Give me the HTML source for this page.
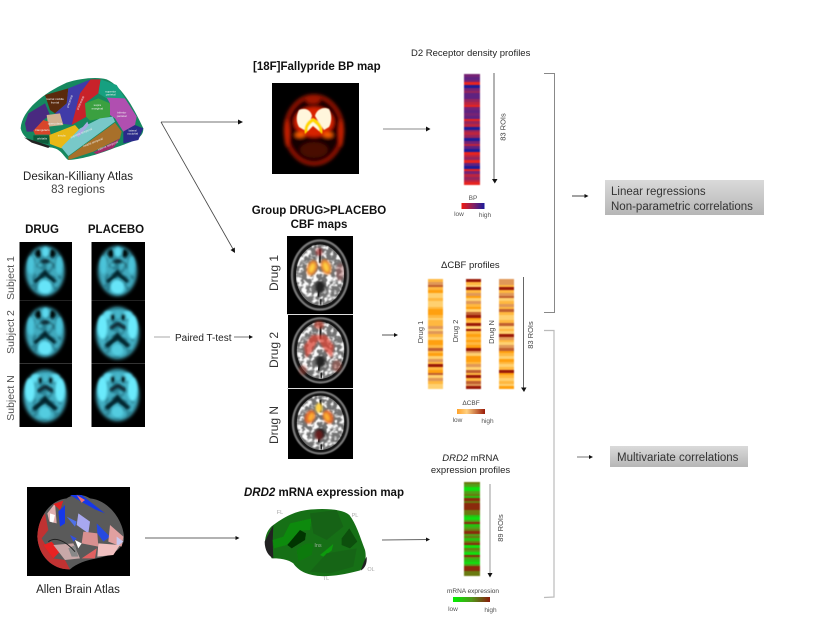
<!DOCTYPE html>
<html><head><meta charset="utf-8">
<style>
html,body{margin:0;padding:0;background:#fff;width:815px;height:638px;overflow:hidden}
.b{position:absolute;display:flex;flex-direction:column;filter:blur(.45px)}
.b i{flex:1;display:block}
.v{background:#5f2280}.s{background:#1c1c98}.r{background:#e82420}.m{background:#96245c}.p{background:#762274}.o{background:#bc2440}
.a{background:#ffd070}.c{background:#ffb840}.d{background:#ffa010}.e{background:#e09858}.f{background:#c06030}.g{background:#9a1a08}
.h{background:#10e010}.j{background:#50a018}.k{background:#6a7a10}.l{background:#8a2a0c}.n{background:#28c010}
svg{position:absolute;left:0;top:0}
text{font-family:"Liberation Sans",sans-serif;fill:#333}
.t{font-weight:bold;fill:#111;font-size:11.5px}
</style></head><body>
<svg width="815" height="638" viewBox="0 0 815 638">
<defs>
<filter id="bl" x="-25%" y="-25%" width="150%" height="150%"><feGaussianBlur stdDeviation="1.3"/></filter>
<filter id="bs" x="-10%" y="-10%" width="120%" height="120%"><feGaussianBlur stdDeviation=".6"/></filter>
<filter id="bm" x="-30%" y="-30%" width="160%" height="160%"><feGaussianBlur stdDeviation="1.8"/></filter>
<filter id="mot" x="0" y="0" width="100%" height="100%"><feTurbulence type="fractalNoise" baseFrequency=".2" numOctaves="2" seed="4"/><feColorMatrix values="0 0 0 0 1  0 0 0 0 1  0 0 0 0 1  4 4 0 0 -3.7"/><feComposite in2="SourceAlpha" operator="in"/><feGaussianBlur stdDeviation=".5"/></filter>
<filter id="mot2" x="0" y="0" width="100%" height="100%"><feTurbulence type="fractalNoise" baseFrequency=".14" numOctaves="2" seed="9"/><feColorMatrix values="0 0 0 0 0  0 0 0 0 .03  0 0 0 0 .05  5 5 0 0 -4.8"/><feComposite in2="SourceAlpha" operator="in"/><feGaussianBlur stdDeviation="1"/></filter>
<linearGradient id="g1" x1="0" x2="1"><stop offset="0" stop-color="#f01a10"/><stop offset=".5" stop-color="#8a2060"/><stop offset="1" stop-color="#1a1a9a"/></linearGradient>
<linearGradient id="g2" x1="0" x2="1"><stop offset="0" stop-color="#ffa22a"/><stop offset=".35" stop-color="#ffd080"/><stop offset=".7" stop-color="#c87040"/><stop offset="1" stop-color="#9a1a08"/></linearGradient>
<linearGradient id="g3" x1="0" x2="1"><stop offset="0" stop-color="#00f000"/><stop offset=".5" stop-color="#50981a"/><stop offset="1" stop-color="#8a1a0c"/></linearGradient>
<linearGradient id="gb" x1="0" x2="0" y1="0" y2="1"><stop offset="0" stop-color="#dadada"/><stop offset="1" stop-color="#b6b6b6"/></linearGradient>
<g id="cy">
<ellipse cx="26" cy="30" rx="19.500" ry="25" fill="#3fa9bd" filter="url(#bm)"/>
<ellipse cx="26" cy="30" rx="18" ry="24" fill="#000" opacity=".35" filter="url(#mot2)"/>
<g filter="url(#bl)">
<ellipse cx="26" cy="46" rx="7" ry="7" fill="#66e4f8"/>
<ellipse cx="26.500" cy="11" rx="3.500" ry="5" fill="#5cd8ee"/>
<ellipse cx="12" cy="24" rx="3.500" ry="9" fill="#4cc4da"/><ellipse cx="40" cy="24" rx="3.500" ry="9" fill="#4cc4da"/>
<ellipse cx="19.300" cy="12.500" rx="3.200" ry="4.200" fill="#010a0e"/><ellipse cx="33.500" cy="12.500" rx="3.200" ry="4.200" fill="#010a0e"/>
<path d="M25 18L17 24 20 26 26 22 33 26 36 24 28 18Z" fill="#0a2c36"/>
<ellipse cx="21" cy="24" rx="2.500" ry="2" fill="#46b8cc"/><ellipse cx="31" cy="24" rx="2.500" ry="2" fill="#46b8cc"/>
<path d="M26 28L21 34 14 40 17 42 26 35 35 42 38 40 31 34Z" fill="#06222a"/>
</g>
</g>
<g id="cyb">
<ellipse cx="26" cy="30" rx="21.500" ry="26" fill="#42aec2" filter="url(#bm)"/>
<ellipse cx="26" cy="30" rx="20" ry="25" fill="#000" opacity=".3" filter="url(#mot2)"/>
<g filter="url(#bl)">
<ellipse cx="11" cy="24" rx="5" ry="12" fill="#6aeafc"/><ellipse cx="41" cy="24" rx="5" ry="12" fill="#6aeafc"/>
<ellipse cx="17" cy="12" rx="5" ry="4" fill="#62e0f4"/><ellipse cx="36" cy="12" rx="5" ry="4" fill="#62e0f4"/>
<ellipse cx="26" cy="47" rx="6" ry="6" fill="#52cce0"/>
<ellipse cx="26.500" cy="12" rx="2.500" ry="4" fill="#46b8cc"/>
<ellipse cx="21" cy="14" rx="2.300" ry="3.300" fill="#010a0e"/><ellipse cx="32" cy="14" rx="2.300" ry="3.300" fill="#010a0e"/>
<path d="M25 19L18 24 20 27 26 23 33 27 35 24 28 19Z" fill="#0a2c36"/>
<path d="M26 29L21 35 13 42 16 45 26 37 36 45 39 42 31 35Z" fill="#06222a"/>
</g>
</g>
<g id="cb">
<ellipse cx="33" cy="38" rx="29" ry="35.500" fill="#141414"/>
<ellipse cx="33" cy="38" rx="28" ry="34.500" fill="none" stroke="#7c7c7c" stroke-width="2.200" filter="url(#bs)"/>
<ellipse cx="33" cy="38" rx="24" ry="30.500" fill="#727272"/>
<ellipse cx="33" cy="38" rx="24" ry="30.500" fill="#000" filter="url(#mot)"/>
<path d="M33 12V26M33 46L31 60M34 62V68" stroke="#111" stroke-width="2" fill="none" filter="url(#bs)"/>
<ellipse cx="33" cy="50" rx="5" ry="6" fill="#222" filter="url(#bl)"/>
</g>
</defs>

<!-- Desikan atlas -->
<g transform="translate(0,60) scale(.33333)" filter="url(#bs)">
<path d="M62 205C66 150 130 100 200 68 240 55 290 50 320 58 360 75 395 130 430 205 430 230 415 240 340 265 290 285 240 298 205 300 190 290 185 265 150 262 110 255 70 240 62 205Z" fill="#14885f"/>
<path d="M75 190L85 160 135 130 150 165 130 180 100 215 80 215Z" fill="#4a2a80"/>
<path d="M135 105L205 85 200 130 165 160 150 150Z" fill="#5a2a10"/>
<path d="M205 85L272 58 250 90 215 195 180 190 165 160 200 130Z" fill="#3f3aa8"/>
<path d="M272 58L302 58 295 100 255 130 260 170 215 195 240 100Z" fill="#c8202c"/>
<path d="M302 58L350 75 375 115 320 115 295 100Z" fill="#18a080"/>
<path d="M255 130L295 115 330 130 330 170 270 182 258 170Z" fill="#3aa040"/>
<path d="M320 113L375 115 410 170 405 195 370 215 345 175 330 165 330 130Z" fill="#b050b0"/>
<path d="M370 215L405 195 430 205 415 240 370 250Z" fill="#2a2a8a"/>
<path d="M140 165L180 160 190 195 145 200Z" fill="#d0b090"/>
<path d="M100 212L130 180 145 185 152 224 105 224Z" fill="#d8452a"/>
<path d="M100 226H150L145 252 100 245Z" fill="#105a3a"/>
<path d="M148 225L225 195 240 212 185 265 150 252Z" fill="#e8b818"/>
<path d="M184 262L240 205 300 175 338 170 345 185 205 288Z" fill="#78c8c8"/>
<path d="M205 290L345 188 365 215 360 235 280 275 205 300Z" fill="#a8702a"/>
<path d="M280 278L360 235 340 264 290 282Z" fill="#a02a6a"/>
<path d="M72 232L150 258 145 264 95 248Z" fill="#222"/>
<path d="M228 225L262 185 266 195 235 232Z" fill="#a8a8e0"/>
<g font-size="9" style="fill:#fff" text-anchor="middle">
<text x="332" y="97" style="fill:#eee">superior</text><text x="332" y="107" style="fill:#eee">parietal</text>
<text x="292" y="138" style="fill:#eee">supra</text><text x="292" y="149" style="fill:#eee">marginal</text>
<text x="365" y="160" style="fill:#eee">inferior</text><text x="365" y="171" style="fill:#eee">parietal</text>
<text x="398" y="214" style="fill:#eee">lateral</text><text x="398" y="224" style="fill:#eee">occipital</text>
<text x="127" y="213" style="fill:#eee">triangularis</text><text x="126" y="238" style="fill:#eee">orbitalis</text>
<text x="185" y="230" style="fill:#eee">insula</text>
<text x="165" y="120" style="fill:#eee">rostral middle</text><text x="165" y="130" style="fill:#eee">frontal</text>
<text x="245" y="222" transform="rotate(-22 245 222)" style="fill:#eee">superior temporal</text>
<text x="280" y="250" transform="rotate(-22 280 250)" style="fill:#eee">middle temporal</text>
<text x="325" y="260" transform="rotate(-22 325 260)" style="fill:#eee">inferior temporal</text>
<text x="212" y="125" transform="rotate(-70 212 125)" style="fill:#eee">precentral</text>
<text x="244" y="130" transform="rotate(-65 244 130)" style="fill:#eee">postcentral</text>
<text x="165" y="193" style="fill:#eee">opercularis</text>
</g>
</g>
<text x="78" y="180" font-size="11.500" text-anchor="middle" style="fill:#222">Desikan-Killiany Atlas</text>
<text x="78" y="193" font-size="11.500" text-anchor="middle" style="fill:#444">83 regions</text>

<!-- cyan tiles -->
<text x="42" y="233" class="t" text-anchor="middle">DRUG</text>
<text x="116" y="233" class="t" text-anchor="middle">PLACEBO</text>
<rect x="19.500" y="242" width="52.500" height="185" fill="#000"/>
<rect x="91.500" y="242" width="53.500" height="185" fill="#000"/>
<use href="#cy" x="19" y="241"/><use href="#cy" x="19" y="302"/><use href="#cyb" x="19" y="366"/>
<use href="#cy" x="91.500" y="241"/><use href="#cyb" x="91.500" y="303"/><use href="#cyb" x="91.500" y="365"/>
<rect x="19.500" y="300" width="52.500" height="1" fill="#222"/><rect x="19.500" y="363" width="52.500" height="1" fill="#333"/>
<rect x="91.500" y="300" width="53.500" height="1" fill="#222"/><rect x="91.500" y="363" width="53.500" height="1" fill="#333"/>
<g font-size="10.500" style="fill:#555" text-anchor="middle">
<text transform="translate(14,278) rotate(-90)" style="fill:#555">Subject 1</text>
<text transform="translate(14,332) rotate(-90)" style="fill:#555">Subject 2</text>
<text transform="translate(14,398) rotate(-90)" style="fill:#555">Subject N</text>
</g>
<text x="175" y="341" font-size="10" style="fill:#222">Paired T-test</text>

<!-- Fallypride -->
<text x="253" y="70" class="t">[18F]Fallypride BP map</text>
<rect x="272" y="83" width="87" height="91" fill="#000"/>
<g filter="url(#bm)">
<ellipse cx="314" cy="130" rx="28" ry="34" fill="#160200"/>
<ellipse cx="314" cy="130" rx="28.500" ry="34" fill="none" stroke="#9a1600" stroke-width="3.500"/>
<ellipse cx="287" cy="133" rx="2.500" ry="14" fill="#cc2400"/><ellipse cx="341" cy="133" rx="2.500" ry="14" fill="#cc2400"/>
<ellipse cx="313" cy="100" rx="7" ry="4" fill="#a01400"/>
<ellipse cx="314" cy="122" rx="20" ry="15" fill="#d82000"/>
<ellipse cx="300" cy="135" rx="5" ry="2.500" fill="#ff6000"/><ellipse cx="328" cy="135" rx="5" ry="2.500" fill="#ff6000"/>
<ellipse cx="314" cy="150" rx="14" ry="8" fill="#4a0800"/>
</g>
<g filter="url(#bs)">
<path d="M299 110C305 107 311 110 312 116L309 124 304 130 299 127C296 122 296 115 299 110Z" fill="#fff6dc"/>
<path d="M329 109C323 106 316 110 315 116L318 121 324 130 329 127C332 122 332 114 329 109Z" fill="#fff6dc"/>
<path d="M313 118C306 121 303 128 305 134 308 131 312 127 313 125 315 127 319 131 322 134 324 128 320 121 313 118Z" fill="#ffd800"/>
<path d="M313 122C309 125 307 128 308 131L313 126 319 131C320 128 317 125 313 122Z" fill="#fffbe0"/>
</g>

<!-- CBF -->
<text x="319" y="214" class="t" text-anchor="middle">Group DRUG&gt;PLACEBO</text>
<text x="319" y="228" class="t" text-anchor="middle">CBF maps</text>
<rect x="287" y="236" width="66" height="78" fill="#000"/>
<rect x="288" y="315" width="65" height="73" fill="#000"/>
<rect x="288" y="389" width="65" height="70" fill="#000"/>
<use href="#cb" x="287" y="237"/>
<g transform="translate(288,315) scale(.985,.93)"><use href="#cb"/></g>
<g transform="translate(288,389) scale(.985,.89)"><use href="#cb"/></g>
<rect x="287" y="314" width="66" height="1" fill="#ddd"/><rect x="287" y="388" width="66" height="1" fill="#ddd"/>
<g filter="url(#bl)">
<ellipse cx="312" cy="268" rx="5" ry="8" fill="#e88030" transform="rotate(20 312 268)"/><ellipse cx="326" cy="267" rx="5" ry="8" fill="#e88030" transform="rotate(-20 326 267)"/>
<ellipse cx="312" cy="268" rx="2.500" ry="5" fill="#ffd040" transform="rotate(20 312 268)"/><ellipse cx="326" cy="267" rx="2.500" ry="5" fill="#ffd040" transform="rotate(-20 326 267)"/>
<ellipse cx="319" cy="252" rx="3.500" ry="4" fill="#a03030" opacity=".7"/>
<ellipse cx="340" cy="272" rx="4" ry="9" fill="#a05050" opacity=".45"/>
<ellipse cx="319" cy="325" rx="5" ry="4" fill="#c04030" opacity=".7"/>
<path d="M312 335L304 346 306 358 312 352 318 340 326 352 332 358 334 346 326 335Z" fill="#d84030" opacity=".75"/>
<ellipse cx="303" cy="370" rx="4" ry="5" fill="#b04030" opacity=".45"/><ellipse cx="337" cy="366" rx="5" ry="6" fill="#b04030" opacity=".4"/>
<ellipse cx="319" cy="408" rx="3.500" ry="5" fill="#ffd040"/>
<ellipse cx="310" cy="417" rx="5" ry="7" fill="#e06028" transform="rotate(25 310 417)"/><ellipse cx="328" cy="417" rx="5" ry="7" fill="#e06028" transform="rotate(-25 328 417)"/>
<ellipse cx="311" cy="417" rx="2.500" ry="4.500" fill="#ffb030" transform="rotate(25 311 417)"/><ellipse cx="327" cy="417" rx="2.500" ry="4.500" fill="#ffb030" transform="rotate(-25 327 417)"/>
<ellipse cx="319" cy="435" rx="4" ry="5" fill="#801818" opacity=".7"/>
</g>
<g font-size="12" text-anchor="middle">
<text transform="translate(278,273) rotate(-90)" style="fill:#333">Drug 1</text>
<text transform="translate(278,350) rotate(-90)" style="fill:#333">Drug 2</text>
<text transform="translate(278,425) rotate(-90)" style="fill:#333">Drug N</text>
</g>

<!-- Allen -->
<rect x="27" y="487" width="103" height="89" fill="#000"/>
<g transform="translate(10,480) scale(.33333)" filter="url(#bs)">
<path d="M82 170C85 110 120 60 170 55 190 40 220 42 240 55 300 60 345 130 342 180 335 215 290 230 260 235 230 240 200 250 180 268 130 270 85 230 82 170Z" fill="#5a5a5a"/>
<path d="M82 170C83 140 92 115 105 100L115 150 95 175 130 235 165 240 180 268C130 270 85 230 82 170Z" fill="#c03030"/>
<path d="M100 195L125 185 150 215 130 235Z" fill="#e82020"/><path d="M112 100L135 70 140 130 118 125Z" fill="#e0b0b0"/>
<path d="M130 72L160 62 150 90Z" fill="#e02020"/><path d="M120 100L135 105 130 128 120 125Z" fill="#fff"/>
<path d="M145 95L165 75 165 130 150 140Z" fill="#1838e8"/>
<path d="M180 45L215 45 285 100 255 88 205 60Z" fill="#1838e8"/>
<path d="M200 45L225 60 215 68Z" fill="#f07070"/>
<path d="M205 100L240 125 235 160 200 135Z" fill="#a8a8f0"/><path d="M170 110L200 125 195 140Z" fill="#5070e8"/>
<path d="M260 130L300 170 280 185 262 160Z" fill="#2848e0"/>
<path d="M220 155L262 160 265 200 215 190Z" fill="#d89090"/>
<path d="M300 135L340 170 335 200 295 185Z" fill="#e0a0a0"/><path d="M320 170L340 185 320 200Z" fill="#c8c8f0"/>
<path d="M265 190L330 195 310 225 262 230Z" fill="#f0c0c0"/>
<path d="M130 195L190 190 210 235 165 240Z" fill="#c8a8a8"/>
<path d="M175 205L195 195 205 230 185 230Z" fill="#888"/>
<path d="M180 165L200 175 190 185Z" fill="#3050e0"/><path d="M195 180L215 190 205 205Z" fill="#fff"/>
<path d="M115 185C135 170 165 180 195 215" stroke="#222" stroke-width="3" fill="none"/>
<path d="M215 235L260 205 255 235Z" fill="#e06060"/>
</g>
<text x="78" y="593" font-size="11.500" text-anchor="middle" style="fill:#222">Allen Brain Atlas</text>

<!-- DRD2 map -->
<text x="244" y="496" class="t"><tspan font-style="italic">DRD2</tspan> mRNA expression map</text>
<g transform="translate(230,480) scale(.33333)" filter="url(#bs)">
<path d="M105 190C105 165 115 145 130 135 170 105 205 90 250 88 300 85 340 90 358 105 378 130 390 170 405 210 412 240 400 268 388 272 340 285 300 290 270 288 230 285 205 272 190 250 170 235 140 235 125 235 110 220 105 190Z" fill="#176f17"/>
<path d="M130 135L104 185C104 210 115 228 130 235L128 185Z" fill="#222"/>
<path d="M410 230C412 250 405 265 392 272L402 245Z" fill="#222"/>
<path d="M128 180L160 170 180 130 245 115 240 150 215 152 170 195 132 205Z" fill="#0a8a0a"/>
<path d="M172 195L210 150 228 160 225 180 185 205Z" fill="#043504"/>
<path d="M335 175L358 145 382 185 360 205 335 195Z" fill="#0c4f0c"/>
<path d="M240 100L320 90 340 140 290 180 250 160Z" fill="#136313"/>
<path d="M270 225L310 192 305 212 280 230Z" fill="#0a9a0a"/>
<path d="M200 210C220 190 240 185 250 195L245 225 205 245Z" fill="#0e7a0e"/>
<path d="M290 220L380 205 370 260 300 280 240 275Z" fill="#136513"/>
</g>
<g font-size="5.500" text-anchor="middle">
<text x="280" y="514" style="fill:#aaa">FL</text><text x="355" y="517" style="fill:#aaa">PL</text>
<text x="371" y="571" style="fill:#aaa">OL</text><text x="326" y="580" style="fill:#aaa">TL</text><text x="318" y="547" style="fill:#9ab09a">Ins</text>
</g>

<!-- labels for profiles -->
<g font-size="9.500">
<text x="411" y="56" style="fill:#222">D2 Receptor density profiles</text>
<text x="441" y="268" style="fill:#222">ΔCBF profiles</text>
<text x="470.500" y="461" text-anchor="middle" style="fill:#222"><tspan font-style="italic">DRD2</tspan> mRNA</text>
<text x="470.500" y="473" text-anchor="middle" style="fill:#222">expression profiles</text>
</g>
<g font-size="7.500" text-anchor="middle">
<text transform="translate(505.500,127) rotate(-90)" style="fill:#444">83 ROIs</text>
<text transform="translate(533,335) rotate(-90)" style="fill:#444">83 ROIs</text>
<text transform="translate(503,528) rotate(-90)" style="fill:#444">89 ROIs</text>
<text transform="translate(423,332) rotate(-90)" style="fill:#444">Drug 1</text>
<text transform="translate(458,331) rotate(-90)" style="fill:#444">Drug 2</text>
<text transform="translate(494,332) rotate(-90)" style="fill:#444">Drug N</text>
</g>
<g font-size="6.500" text-anchor="middle">
<text x="473" y="200" style="fill:#555">BP</text><text x="459" y="216" style="fill:#555">low</text><text x="485" y="217" style="fill:#555">high</text>
<text x="471" y="405" style="fill:#444">ΔCBF</text><text x="457.500" y="422" style="fill:#555">low</text><text x="487.500" y="423" style="fill:#555">high</text>
<text x="473" y="593" style="fill:#444">mRNA expression</text><text x="453" y="611" style="fill:#555">low</text><text x="490.500" y="612" style="fill:#555">high</text>
</g>
<rect x="461.500" y="203" width="23" height="6" fill="url(#g1)"/>
<rect x="457" y="409" width="28" height="5" fill="url(#g2)"/>
<rect x="453" y="597" width="37" height="5" fill="url(#g3)"/>

<!-- connectors -->
<g fill="none" stroke-linecap="butt">
<path d="M161 122H239" stroke="#444" stroke-width=".8"/>
<path d="M161 122L233 249" stroke="#444" stroke-width=".8"/>
<path d="M383 129H427" stroke="#888" stroke-width="1"/>
<path d="M494 73V180" stroke="#666" stroke-width="1"/>
<path d="M544 73.500H554.500V312.500H544" stroke="#888" stroke-width="1"/>
<path d="M544 330.500H554V597L544 597.500" stroke="#bbb" stroke-width="1.200"/>
<path d="M154 337H170" stroke="#aaa" stroke-width="1"/>
<path d="M234 337H250" stroke="#777" stroke-width="1"/>
<path d="M382 335H395" stroke="#555" stroke-width="1"/>
<path d="M523.500 277V389" stroke="#666" stroke-width="1"/>
<path d="M145 538H236" stroke="#666" stroke-width="1"/>
<path d="M382 540L427 539.500" stroke="#666" stroke-width="1"/>
<path d="M490 484V574" stroke="#aaa" stroke-width="1.200"/>
<path d="M572 196H585" stroke="#444" stroke-width="1"/>
<path d="M577 457H590" stroke="#777" stroke-width="1"/>
</g>
<g fill="#111">
<path d="M243 122L238 119.500V124.500Z"/>
<path d="M235 253L230.500 250 234.800 247.500Z"/>
<path d="M430.500 129L426 126.500V131.500Z"/>
<path d="M494.800 183.500L492 179H497.500Z"/>
<path d="M253 337L249 335V339Z"/>
<path d="M398 335L394 333V337Z"/>
<path d="M524 392L521 387.500H526.500Z"/>
<path d="M239.500 538L235.500 536V540Z"/>
<path d="M430 539.500L426 537.500V541.500Z"/>
<path d="M490 577.500L487.500 573H492.500Z"/>
<path d="M588.500 196L584.500 194V198Z"/>
<path d="M593 457L589 455V459Z"/>
</g>

<!-- result boxes -->
<rect x="605" y="180" width="159" height="35" fill="url(#gb)"/>
<rect x="610" y="446" width="138" height="21" fill="url(#gb)"/>
<g font-size="11.500" style="fill:#333">
<text x="611" y="195" style="fill:#333">Linear regressions</text>
<text x="611" y="210" style="fill:#333">Non-parametric correlations</text>
<text x="617" y="461" style="fill:#333">Multivariate correlations</text>
</g>
</svg>

<div class="b" style="left:463.500px;top:74px;width:16.500px;height:111px">
<i class=p></i><i class=v></i><i class=p></i><i class=r></i><i class=s></i><i class=p></i><i class=m></i><i class=v></i><i class=v></i><i class=m></i><i class=o></i><i class=r></i><i class=p></i><i class=v></i><i class=p></i><i class=v></i><i class=r></i><i class=m></i><i class=o></i><i class=s></i><i class=m></i><i class=o></i><i class=m></i><i class=s></i><i class=p></i><i class=o></i><i class=v></i><i class=s></i><i class=r></i><i class=o></i><i class=m></i><i class=r></i><i class=v></i><i class=s></i><i class=r></i><i class=p></i><i class=o></i><i class=m></i><i class=o></i><i class=r></i>
</div>
<div class="b" style="left:428px;top:279px;width:15px;height:110px">
<i class=c></i><i class=e></i><i class=f></i><i class=c></i><i class=d></i><i class=a></i><i class=a></i><i class=c></i><i class=a></i><i class=a></i><i class=c></i><i class=d></i><i class=d></i><i class=c></i><i class=a></i><i class=c></i><i class=c></i><i class=e></i><i class=a></i><i class=e></i><i class=c></i><i class=a></i><i class=d></i><i class=d></i><i class=c></i><i class=f></i><i class=c></i><i class=d></i><i class=a></i><i class=e></i><i class=c></i><i class=g></i><i class=c></i><i class=d></i><i class=f></i><i class=a></i><i class=e></i><i class=c></i><i class=a></i><i class=a></i>
</div>
<div class="b" style="left:466px;top:279px;width:15px;height:110px">
<i class=g></i><i class=c></i><i class=a></i><i class=g></i><i class=c></i><i class=e></i><i class=d></i><i class=a></i><i class=e></i><i class=c></i><i class=d></i><i class=a></i><i class=f></i><i class=g></i><i class=d></i><i class=c></i><i class=g></i><i class=a></i><i class=g></i><i class=c></i><i class=d></i><i class=c></i><i class=d></i><i class=c></i><i class=d></i><i class=g></i><i class=e></i><i class=a></i><i class=d></i><i class=d></i><i class=c></i><i class=e></i><i class=a></i><i class=f></i><i class=c></i><i class=g></i><i class=c></i><i class=f></i><i class=e></i><i class=g></i>
</div>
<div class="b" style="left:499px;top:279px;width:15px;height:110px">
<i class=e></i><i class=e></i><i class=c></i><i class=g></i><i class=c></i><i class=e></i><i class=f></i><i class=a></i><i class=c></i><i class=e></i><i class=c></i><i class=f></i><i class=c></i><i class=a></i><i class=a></i><i class=c></i><i class=f></i><i class=a></i><i class=c></i><i class=a></i><i class=g></i><i class=e></i><i class=c></i><i class=a></i><i class=e></i><i class=f></i><i class=d></i><i class=c></i><i class=a></i><i class=d></i><i class=c></i><i class=a></i><i class=c></i><i class=g></i><i class=d></i><i class=c></i><i class=a></i><i class=c></i><i class=a></i><i class=d></i>
</div>
<div class="b" style="left:464px;top:482px;width:16px;height:94px">
<i class=k></i><i class=j></i><i class=h></i><i class=h></i><i class=j></i><i class=k></i><i class=n></i><i class=l></i><i class=k></i><i class=l></i><i class=l></i><i class=l></i><i class=k></i><i class=k></i><i class=n></i><i class=h></i><i class=j></i><i class=l></i><i class=n></i><i class=j></i><i class=k></i><i class=l></i><i class=j></i><i class=k></i><i class=n></i><i class=k></i><i class=l></i><i class=h></i><i class=k></i><i class=j></i><i class=h></i><i class=l></i><i class=j></i><i class=n></i><i class=h></i><i class=j></i><i class=l></i><i class=l></i><i class=k></i><i class=k></i>
</div>
</body></html>
